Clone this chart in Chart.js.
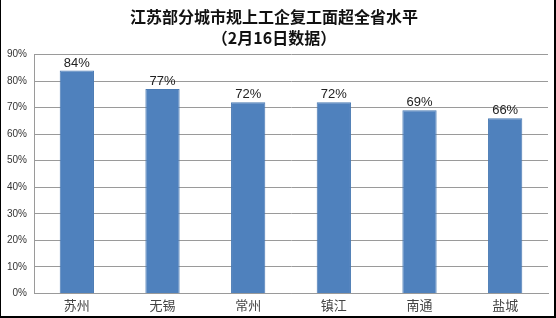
<!DOCTYPE html>
<html>
<head>
<meta charset="utf-8">
<script src="https://cdn.jsdelivr.net/npm/chart.js@4.4.1/dist/chart.umd.min.js"></script>
<style>
  html, body { margin: 0; padding: 0; background: #fff; }
  #wrap { position: relative; width: 556px; height: 318px; }
  #frame { position: absolute; left: 0; top: 0; width: 556px; height: 318px; box-sizing: border-box;
           border-left: 1px solid #000; border-right: 2px solid #000; border-bottom: 2px solid #000;
           pointer-events: none; }
</style>
</head>
<body>
<div id="wrap"><canvas id="cityChart"></canvas><div id="frame"></div></div>
<script>
// ===== data =====
const cities = ['苏州', '无锡', '常州', '镇江', '南通', '盐城'];
const resumeRate = [84, 77, 72, 72, 69, 66];
const titleLines = ['江苏部分城市规上工企复工面超全省水平', '（2月16日数据）'];

// labels above bars
const barLabels = {
  id: 'barLabels',
  afterDatasetsDraw(chart) {
    const { ctx } = chart;
    const meta = chart.getDatasetMeta(0);
    ctx.save();
    ctx.font = '13px "Liberation Sans", Arial, sans-serif';
    ctx.fillStyle = '#222';
    ctx.textAlign = 'center';
    ctx.textBaseline = 'bottom';
    meta.data.forEach((bar, i) => {
      ctx.fillText(resumeRate[i] + '%', bar.x, bar.y - 1);
    });
    ctx.restore();
  }
};

const ctx = document.getElementById('cityChart');
new Chart(ctx, {
  type: 'bar',
  data: {
    labels: cities,
    datasets: [{
      data: resumeRate,
      backgroundColor: '#4f81bd',
      borderColor: '#4a7ab3',
      borderWidth: 1,
      categoryPercentage: 1,
      barPercentage: 0.4
    }]
  },
  options: {
    responsive: true,
    maintainAspectRatio: false,
    animation: false,
    layout: { padding: { left: 0, right: 8, top: 0, bottom: 1 } },
    plugins: {
      legend: { display: false },
      tooltip: { enabled: false },
      title: {
        display: true,
        text: titleLines,
        color: '#111',
        font: { family: '"Noto Sans CJK SC", sans-serif', size: 16, weight: 'bold', lineHeight: 1.3 },
        padding: { top: 7, bottom: 6 }
      }
    },
    scales: {
      y: {
        min: 0, max: 90,
        ticks: { stepSize: 10, callback: v => v + '%', color: '#333', padding: 7,
                 font: { family: '"Liberation Sans", Arial, sans-serif', size: 10 } },
        grid: { color: '#9a9a9a', drawTicks: false },
        border: { color: '#9a9a9a' }
      },
      x: {
        ticks: { color: '#444', padding: 4,
                 font: { family: '"Noto Sans CJK SC", sans-serif', size: 13 } },
        grid: { display: false, drawTicks: false },
        border: { color: '#9a9a9a' }
      }
    }
  },
  plugins: [barLabels]
});
</script>
</body>
</html>
